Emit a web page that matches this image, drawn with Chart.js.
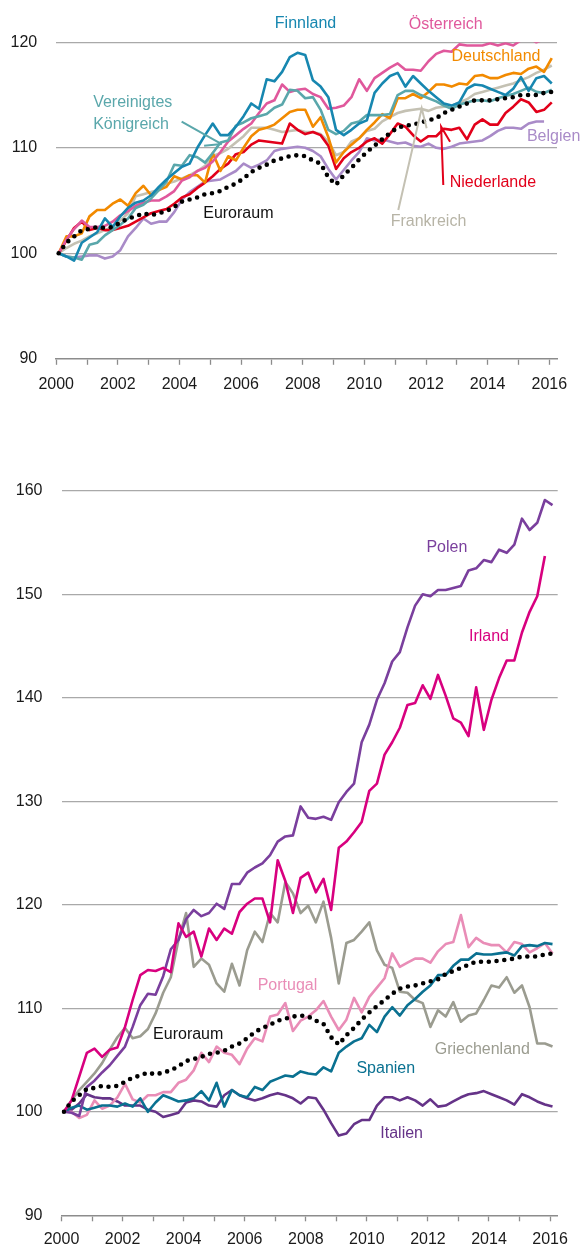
<!DOCTYPE html>
<html>
<head>
<meta charset="utf-8">
<script src="https://cdn.jsdelivr.net/npm/chart.js@4.4.1/dist/chart.umd.min.js"></script>
<style>
html,body{margin:0;padding:0;background:#fff;}
#w1{position:absolute;left:0;top:0;width:582px;height:420px;}
#w2{position:absolute;left:0;top:420px;width:582px;height:828px;}
canvas{display:block;}
</style>
</head>
<body>
<div id="w1"><canvas id="c1" width="582" height="420"></canvas></div>
<div id="w2"><canvas id="c2" width="582" height="828"></canvas></div>
<script>
// ---------- categories (quarters 2000Q1 .. 2016Q1) ----------
const quarters = [];
for (let yr = 2000; yr <= 2016; yr++) {
  for (let q = 1; q <= 4; q++) {
    if (yr === 2016 && q > 1) break;
    quarters.push(yr + 'Q' + q);
  }
}
const tickYears = [2000, 2001, 2002, 2003, 2004, 2005, 2006, 2007, 2008, 2009, 2010, 2011, 2012, 2013, 2014, 2015, 2016];
const xTickLabels = [2000, 2002, 2004, 2006, 2008, 2010, 2012, 2014, 2016];
const yTicksTop = [90, 100, 110, 120];
const yTicksBottom = [90, 100, 110, 120, 130, 140, 150, 160];

// ---------- series (index 2000Q1 = 100) ----------
const euroraum = [100, 101, 101.6, 102.2, 102.3, 102.5, 102.4, 102.5, 102.9, 103.3, 103.5, 103.8, 103.6, 103.8, 104, 104.4, 104.9, 105.1, 105.3, 105.6, 105.7, 105.9, 106.3, 106.6, 107.1, 107.7, 108.1, 108.4, 108.8, 109, 109.2, 109.3, 109.2, 108.8, 108.5, 107.2, 106.5, 107.4, 108.1, 108.9, 109.6, 110.2, 110.8, 111.4, 111.9, 112.1, 112.2, 112.4, 112.6, 112.8, 113.3, 113.6, 113.9, 114.2, 114.5, 114.5, 114.5, 114.6, 114.7, 114.8, 115, 115, 115, 115.2, 115.3];

const finnland = [100, 99.7, 99.3, 101, 101.5, 102, 103.3, 102.5, 103.5, 104.3, 104.8, 105, 105.5, 106.3, 107, 107.6, 108.2, 108.5, 110, 111.2, 112.3, 111.2, 111.2, 112, 113, 114.2, 113.7, 116.5, 116.3, 117.2, 118.6, 119, 118.8, 116.4, 115.8, 114.8, 111.7, 111.2, 111.7, 112.3, 112.6, 115.2, 116.1, 116.8, 117.1, 115.8, 116.8, 116.1, 115.4, 114.8, 114.2, 114, 114.3, 115.6, 116, 115.9, 115.6, 115.3, 115, 115.6, 116.7, 115.4, 116.6, 116.8, 116.1];
const oesterreich = [100, 101.3, 102.3, 103.1, 102.5, 102.5, 102.6, 103, 103.6, 104, 104.5, 104.8, 105, 105, 105.4, 105.9, 106.9, 107.2, 107.8, 108.1, 108.7, 109.6, 110.6, 111.2, 111.8, 112.3, 113.3, 114.2, 114.5, 116, 115.3, 115.5, 115.6, 115.1, 114.8, 113.7, 113.8, 114, 114.8, 116.5, 115.4, 116.6, 117.1, 117.6, 118, 117.4, 117.4, 117.3, 118.2, 118.9, 119.2, 119.1, 119.8, 119.7, 119.7, 119.7, 119.9, 119.7, 119.9, 119.7, 120.2, 120.4, 120, 120.3, 120.5];
const deutschland = [100, 101.6, 101.6, 101.9, 103.5, 104.1, 104.1, 104.7, 105.1, 104.5, 105.7, 106.4, 105.5, 106, 106.3, 107.3, 107, 107.4, 107.4, 106.7, 109.5, 107.8, 109.2, 108.8, 110, 111.1, 111.7, 111.9, 112.2, 112.8, 113.4, 113.6, 113.6, 112, 112.9, 111, 108.6, 109.6, 110.3, 110.9, 111.7, 112.4, 113.2, 112.8, 114.7, 114.7, 115.1, 114.7, 115.3, 116, 116, 115.8, 116.1, 116, 116.8, 116.9, 116.6, 116.6, 116.9, 117.1, 117, 117.5, 117.7, 117.2, 118.5];
const vereinigtesKoenigreich = [100, 99.7, 99.6, 99.4, 100.8, 101, 101.7, 102.2, 102.7, 103.3, 104.3, 104.6, 105.2, 106, 106.8, 108.4, 108.3, 109.3, 109.1, 108.6, 109.5, 110.5, 110.7, 112.1, 112.4, 112.8, 113, 113.2, 113.8, 114.1, 115.5, 115.4, 114.7, 114.8, 113.6, 111.7, 111.3, 111.6, 112.3, 112.5, 113.1, 113.1, 113.1, 113.2, 115, 115.4, 115.4, 115, 114.7, 114.4, 114, 113.7, 114.1, 114.3, 114.5, 114.5, 114.4, 114.7, 114.9, 115.1, 115.4, 115.7, 115.3, 115.2, 115.5];
const belgien = [100, 99.7, 99.6, 99.7, 99.8, 99.8, 99.5, 99.7, 100.3, 101.6, 102.4, 103.3, 102.8, 103, 103, 103.9, 105.1, 105.8, 106.3, 106.8, 106.9, 107, 107.4, 107.8, 108.5, 108.1, 108.4, 108.8, 109.7, 109.9, 110, 110.1, 110, 109.7, 109.2, 108, 107, 107.9, 108.8, 109.6, 110.9, 110.7, 110.8, 110.6, 110.4, 110.5, 110.2, 110.1, 110.4, 110, 109.9, 110.1, 110.4, 110.5, 110.6, 110.7, 111.1, 111.6, 111.9, 111.9, 111.8, 112.3, 112.5, 112.5, null];
const niederlande = [100, 101.2, 102.4, 103, 102.2, 102.4, 102.2, 102.2, 102.4, 102.6, 103, 103.4, 103.8, 104, 104.2, 104.7, 105.3, 105.6, 106.2, 106.7, 107.3, 108, 108.5, 109.4, 109.6, 110.3, 110.7, 110.6, 110.5, 110.4, 112.3, 111.7, 111.3, 111.5, 111.2, 110.2, 108, 109, 109.6, 110, 110.6, 110.9, 110.4, 111.3, 112.3, 112, 111.2, 110.6, 111.1, 111.1, 111.8, 111.7, 111.9, 110.8, 112.2, 112.7, 112.2, 112.2, 113.3, 113.9, 114.6, 114.3, 113.4, 113.6, 114.3];
const frankreich = [100, 100.5, 100.9, 101.2, 101.6, 101.9, 102.2, 102.5, 103.1, 103.8, 105.4, 105.6, 105.8, 106, 106.6, 106.8, 107.1, 107.4, 107.8, 108.3, 109.2, 109.5, 109.9, 110.5, 111.1, 111.9, 111.9, 111.9, 111.7, 111.5, 111.6, 111.7, 111.5, 111.5, 111.3, 110.6, 109.3, 109.6, 110.6, 110.9, 111.6, 111.8, 112.5, 112.9, 113.3, 113.5, 113.6, 113.7, 113.5, 113.8, 113.9, 114, 114.3, 114.6, 115.1, 115.3, 115.5, 115.7, 115.9, 116.1, 116.4, 116.7, 117.1, 117.4, 117.8];

const polen = [100, 99.9, 99.6, 102.4, 103, 103.8, 104.5, 105.4, 106.3, 108.2, 110.3, 111.4, 111.3, 113.1, 115.7, 116.6, 118.6, 119.5, 118.9, 119.2, 120.1, 119.6, 122, 122, 123.1, 123.6, 124, 124.8, 126.1, 126.6, 126.7, 129.5, 128.4, 128.3, 128.5, 128.2, 129.9, 130.9, 131.7, 135.7, 137.4, 139.8, 141.4, 143.5, 144.4, 146.8, 148.9, 150, 149.8, 150.4, 150.4, 150.6, 150.8, 152.3, 152.5, 153.3, 153.1, 154.3, 154, 154.8, 157.3, 156.2, 156.9, 159.1, 158.6];
const irland = [100, 101.1, 103.4, 105.7, 106.1, 105.3, 106, 106.2, 108.2, 110.8, 113.2, 113.7, 113.6, 113.9, 113.5, 118.2, 116.9, 117.4, 115, 117.7, 116.6, 117.7, 117.2, 119.3, 120.1, 120.6, 120.6, 118.3, 124.3, 122.3, 119.2, 122.6, 123.1, 121.2, 122.5, 119.5, 125.5, 126.1, 127, 128, 131, 131.7, 134.5, 135.7, 137.1, 139.3, 139.5, 141.2, 139.9, 142.2, 140.2, 138, 137.6, 136.3, 141, 136.9, 139.8, 141.9, 143.6, 143.6, 146.3, 148.3, 149.8, 153.7, null];
const portugal = [100, 100, 99.4, 99.7, 101.1, 100.3, 100.6, 101.4, 102.7, 101.2, 100.9, 101.6, 101.6, 101.9, 101.9, 102.8, 103.1, 104, 105.7, 104.8, 106.3, 105.7, 105.5, 104.6, 106.1, 107.1, 106.8, 109.2, 109.4, 110.5, 107.8, 108.8, 109.2, 109.8, 110.7, 109.2, 107.9, 108.9, 111, 109.6, 111.1, 112, 112.9, 115.3, 114, 114.4, 114.8, 114.8, 114.4, 115.5, 116.2, 116.4, 119, 115.9, 116.8, 116.3, 116.1, 116.1, 115.4, 116.4, 116.2, 115.4, 115.8, 116.3, 115.3];
const spanien = [100, 100.4, 100.6, 100.2, 100.4, 100.6, 100.6, 100.5, 100.8, 100.5, 101.3, 100, 100.9, 101.6, 101.3, 101, 101.1, 101.3, 102, 101.1, 102.8, 100.5, 102.1, 101.6, 101.4, 102.4, 102.1, 102.9, 103.2, 103.5, 103.4, 103.9, 103.7, 103.6, 104.3, 103.9, 105.7, 106.3, 106.8, 107.1, 108.4, 107.7, 109.2, 110.1, 109.3, 110.3, 110.9, 111.6, 112.2, 113.2, 113.2, 114.1, 114.7, 114.7, 115.3, 115.2, 115.2, 115.3, 115.4, 115.1, 116, 116.1, 116, 116.3, 116.2];
const griechenland = [100, 101.1, 102.1, 102.9, 103.7, 104.7, 106, 107.2, 108.1, 107.1, 107.3, 108, 109.5, 111.5, 113, 116.6, 119.2, 114, 114.8, 114.2, 112.4, 111.6, 114.3, 112.2, 115.6, 117.4, 116.4, 119.2, 118.3, 122.2, 121.1, 119.2, 119.9, 118.3, 120.3, 116.8, 112.4, 116.3, 116.6, 117.4, 118.3, 115.6, 114.2, 113.9, 111.6, 111.5, 110.8, 110.5, 108.2, 109.8, 109.2, 110.6, 108.7, 109.3, 109.5, 110.8, 112.2, 112, 113, 111.5, 112.2, 110.1, 106.6, 106.6, 106.3];
const italien = [100, 100.2, 100.8, 101.7, 101.4, 101.3, 101.3, 101, 100.6, 100.6, 100.6, 100.2, 100, 99.5, 99.7, 99.9, 100.9, 101.1, 101, 100.6, 100.5, 101.6, 102.1, 101.6, 101.3, 101.1, 101.3, 101.6, 101.8, 101.6, 101.3, 100.8, 101.4, 101.3, 100.2, 98.9, 97.7, 97.9, 98.8, 99.2, 99.2, 100.6, 101.4, 101.4, 101.1, 101.4, 101.1, 100.6, 101.2, 100.5, 100.6, 101, 101.4, 101.7, 101.8, 102, 101.7, 101.4, 101.1, 100.7, 101.7, 101.4, 101, 100.7, 100.5];

// ---------- styling ----------
const FONT = '"Liberation Sans", Arial, sans-serif';
const COL = {
  euro: '#000000', fin: '#1787b0', aut: '#e0589c', deu: '#f28a00', uk: '#5aa7ab',
  bel: '#a98bc8', nld: '#e2001a', fra: '#c4c1b3',
  pol: '#7a3f9d', irl: '#d8007f', por: '#e98db7', esp: '#0a7191', gre: '#9b9c90', ita: '#653388'
};

function quarterX(label) {
  const yr = parseInt(label.slice(0, 4), 10);
  const q = parseInt(label.slice(5), 10);
  return yr + (q - 1) / 4 + 0.08;
}
function toPoints(vals) {
  return quarters.map((qq, i) => ({ x: quarterX(qq), y: vals[i] }));
}
function lineDS(label, vals, color, order) {
  return { label, data: toPoints(vals), borderColor: color, borderWidth: 2.6,
           pointRadius: 0, fill: false, tension: 0, order, borderJoinStyle: 'round' };
}
function dottedDS(label, vals, order) {
  return { label, data: toPoints(vals), borderColor: COL.euro, borderWidth: 4.6,
           borderDash: [0, 7.8], borderCapStyle: 'round', pointRadius: 0, fill: false,
           tension: 0, order };
}

const labelPlugin = {
  id: 'seriesLabels',
  afterDatasetsDraw(chart, args, opts) {
    const { ctx, scales: { x, y } } = chart;
    ctx.save();
    (opts.lines || []).forEach(l => {
      ctx.strokeStyle = l.color; ctx.lineWidth = 2; ctx.lineCap = 'butt';
      ctx.beginPath();
      l.pts.forEach((p, i) => {
        const px = x.getPixelForValue(p[0]), py = y.getPixelForValue(p[1]);
        if (i) ctx.lineTo(px, py); else ctx.moveTo(px, py);
      });
      ctx.stroke();
    });
    ctx.font = '16px ' + FONT;
    ctx.textBaseline = 'middle';
    (opts.texts || []).forEach(t => {
      ctx.fillStyle = t.color;
      ctx.textAlign = t.align || 'center';
      ctx.fillText(t.text, x.getPixelForValue(t.x), y.getPixelForValue(t.y));
    });
    ctx.restore();
  }
};

function makeOptions(cfg) {
  return {
    responsive: false,
    animation: false,
    devicePixelRatio: 1,
    layout: { padding: { top: cfg.padTop, right: cfg.padRight, left: 0, bottom: 0 } },
    plugins: { legend: { display: false }, tooltip: { enabled: false }, seriesLabels: cfg.labels },
    scales: {
      x: {
        type: 'linear', min: 2000, max: 2016.25,
        afterFit: s => { s.height = cfg.xHeight; },
        afterBuildTicks: s => { s.ticks = tickYears.map(v => ({ value: v })); },
        ticks: {
          autoSkip: false, maxRotation: 0, padding: cfg.xPad,
          color: '#1a1a1a', font: { family: FONT, size: 16 },
          callback: v => (xTickLabels.includes(v) ? String(v) : '')
        },
        grid: { drawOnChartArea: false, drawTicks: true, tickLength: 6, tickColor: '#8c8c8c', tickWidth: 1.3 },
        border: { display: true, color: '#8c8c8c', width: 1.6 }
      },
      y: {
        min: cfg.yTicks[0], max: cfg.yTicks[cfg.yTicks.length - 1],
        afterFit: s => { s.width = cfg.yWidth; },
        afterBuildTicks: s => { s.ticks = cfg.yTicks.map(v => ({ value: v })); },
        ticks: { padding: 19, color: '#1a1a1a', font: { family: FONT, size: 16 }, callback: v => String(v) },
        grid: {
          drawTicks: false, lineWidth: 1.3,
          color: c => (c.tick && c.tick.value === cfg.yTicks[0] ? 'rgba(0,0,0,0)' : '#a9a9a9')
        },
        border: { display: false }
      }
    }
  };
}

// ---------- top chart ----------
new Chart(document.getElementById('c1'), {
  type: 'line',
  data: {
    datasets: [
      dottedDS('Euroraum', euroraum, 0),
      lineDS('Finnland', finnland, COL.fin, 1),
      lineDS('Vereinigtes Königreich', vereinigtesKoenigreich, COL.uk, 2),
      lineDS('Österreich', oesterreich, COL.aut, 3),
      lineDS('Deutschland', deutschland, COL.deu, 4),
      lineDS('Niederlande', niederlande, COL.nld, 5),
      lineDS('Belgien', belgien, COL.bel, 6),
      lineDS('Frankreich', frankreich, COL.fra, 7)
    ]
  },
  options: makeOptions({
    padTop: 42.3, padRight: 25, yWidth: 56.2, xHeight: 420 - 358.8, xPad: 10,
    yTicks: yTicksTop,
    labels: {
      texts: [
        { text: 'Finnland', x: 2008.09, y: 121.73, color: COL.fin },
        { text: 'Österreich', x: 2012.64, y: 121.7, color: COL.aut },
        { text: 'Deutschland', x: 2014.27, y: 118.63, color: COL.deu },
        { text: 'Belgien', x: 2016.14, y: 111.1, color: COL.bel },
        { text: 'Niederlande', x: 2014.17, y: 106.69, color: COL.nld },
        { text: 'Frankreich', x: 2012.08, y: 103.0, color: '#b7b4a6' },
        { text: 'Euroraum', x: 2005.91, y: 103.79, color: '#111' },
        { text: 'Vereinigtes', x: 2001.2, y: 114.27, color: COL.uk, align: 'left' },
        { text: 'Königreich', x: 2001.2, y: 112.16, color: COL.uk, align: 'left' }
      ],
      lines: [
        { color: COL.uk, pts: [[2004.07, 112.47], [2005.37, 110.36]] },
        { color: COL.uk, pts: [[2004.8, 110.2], [2005.37, 110.36]] },
        { color: COL.fra, pts: [[2011.1, 104.1], [2011.86, 113.74], [2012.02, 111.85]] },
        { color: COL.nld, pts: [[2012.56, 106.47], [2012.49, 112.0], [2012.78, 110.58]] }
      ]
    }
  }),
  plugins: [labelPlugin]
});

// ---------- bottom chart ----------
new Chart(document.getElementById('c2'), {
  type: 'line',
  data: {
    datasets: [
      dottedDS('Euroraum', euroraum, 0),
      lineDS('Irland', irland, COL.irl, 1),
      lineDS('Polen', polen, COL.pol, 2),
      lineDS('Spanien', spanien, COL.esp, 3),
      lineDS('Portugal', portugal, COL.por, 4),
      lineDS('Italien', italien, COL.ita, 5),
      lineDS('Griechenland', griechenland, COL.gre, 6)
    ]
  },
  options: makeOptions({
    padTop: 70.7, padRight: 24.3, yWidth: 61.5, xHeight: 828 - 795.3, xPad: 9,
    yTicks: yTicksBottom,
    labels: {
      texts: [
        { text: 'Polen', x: 2012.62, y: 154.54, color: COL.pol },
        { text: 'Irland', x: 2014.0, y: 145.9, color: COL.irl },
        { text: 'Portugal', x: 2007.4, y: 112.15, color: COL.por },
        { text: 'Euroraum', x: 2004.15, y: 107.42, color: '#111' },
        { text: 'Spanien', x: 2010.62, y: 104.2, color: COL.esp },
        { text: 'Griechenland', x: 2013.78, y: 106.04, color: COL.gre },
        { text: 'Italien', x: 2011.14, y: 97.92, color: COL.ita }
      ],
      lines: []
    }
  }),
  plugins: [labelPlugin]
});
</script>
</body>
</html>
